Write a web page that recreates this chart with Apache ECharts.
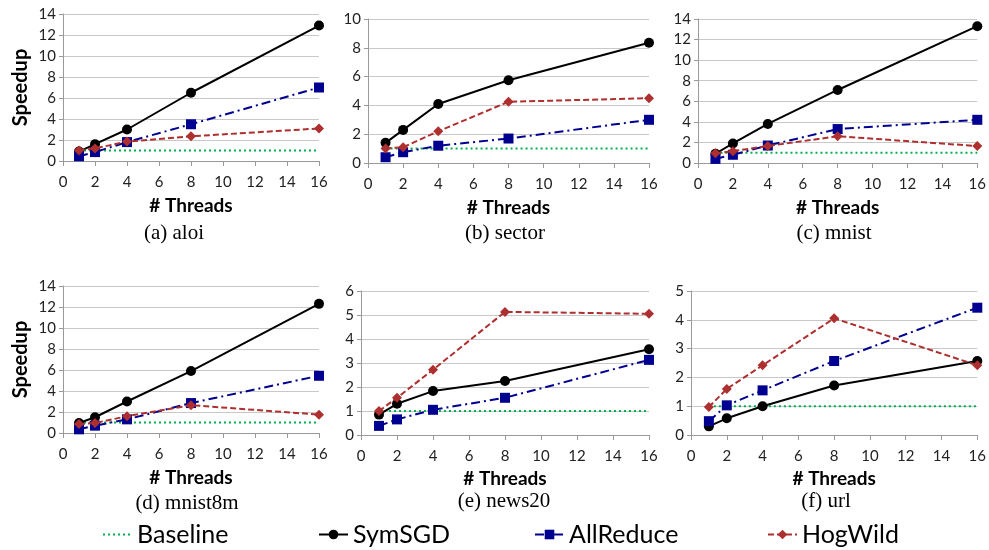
<!DOCTYPE html>
<html>
<head>
<meta charset="utf-8">
<script src="https://cdn.jsdelivr.net/npm/echarts@6/dist/echarts.min.js"></script>
<style>
html,body{margin:0;padding:0;background:#fff;}
#chart{width:989px;height:550px;}
</style>
</head>
<body>
<div id="chart"></div>
<script>
// ---- data ----
const threads = [1, 2, 4, 8, 16];
const panelNames = ['(a) aloi', '(b) sector', '(c) mnist', '(d) mnist8m', '(e) news20', '(f) url'];
const seriesNames = ['Baseline', 'SymSGD', 'AllReduce', 'HogWild'];

const baseline = [1, 1, 1, 1, 1];

const aloiSymSGD = [0.9, 1.6, 3.0, 6.5, 12.9];
const aloiAllReduce = [0.45, 0.85, 1.8, 3.5, 7.0];
const aloiHogWild = [1.0, 1.2, 1.85, 2.35, 3.1];

const sectorSymSGD = [1.4, 2.3, 4.1, 5.75, 8.35];
const sectorAllReduce = [0.4, 0.75, 1.2, 1.7, 3.0];
const sectorHogWild = [1.0, 1.1, 2.2, 4.25, 4.5];

const mnistSymSGD = [0.9, 1.9, 3.8, 7.1, 13.3];
const mnistAllReduce = [0.4, 0.8, 1.7, 3.3, 4.2];
const mnistHogWild = [0.95, 1.15, 1.65, 2.6, 1.65];

const mnist8mSymSGD = [0.95, 1.5, 3.0, 5.9, 12.3];
const mnist8mAllReduce = [0.35, 0.7, 1.3, 2.85, 5.45];
const mnist8mHogWild = [0.85, 0.95, 1.6, 2.65, 1.75];

const news20SymSGD = [0.85, 1.3, 1.83, 2.25, 3.57];
const news20AllReduce = [0.38, 0.65, 1.05, 1.55, 3.13];
const news20HogWild = [1.0, 1.55, 2.72, 5.13, 5.05];

const urlSymSGD = [0.3, 0.58, 1.0, 1.72, 2.57];
const urlAllReduce = [0.48, 1.03, 1.55, 2.57, 4.42];
const urlHogWild = [0.97, 1.6, 2.42, 4.05, 2.42];

const xTicks = {min: 0, max: 16, interval: 2};
const yTicks = [
  {min: 0, max: 14, interval: 2},
  {min: 0, max: 10, interval: 2},
  {min: 0, max: 14, interval: 2},
  {min: 0, max: 14, interval: 2},
  {min: 0, max: 6, interval: 1},
  {min: 0, max: 5, interval: 1}
];

const panelData = [
  [aloiSymSGD, aloiAllReduce, aloiHogWild],
  [sectorSymSGD, sectorAllReduce, sectorHogWild],
  [mnistSymSGD, mnistAllReduce, mnistHogWild],
  [mnist8mSymSGD, mnist8mAllReduce, mnist8mHogWild],
  [news20SymSGD, news20AllReduce, news20HogWild],
  [urlSymSGD, urlAllReduce, urlHogWild]
];

// ---- layout ----
const grids = [
  {left: 63, top: 14, width: 256, height: 147},
  {left: 368, top: 19, width: 281, height: 144},
  {left: 698, top: 19, width: 281, height: 144},
  {left: 63, top: 286, width: 256, height: 147},
  {left: 361, top: 291, width: 288, height: 144},
  {left: 691, top: 291, width: 288, height: 144}
];
const captionPos = [[169, 228], [500, 228], [829, 228], [182, 498], [499, 496], [821, 496]];
const nameGaps = [35, 35, 35, 35, 34, 34];

const FONT = 'Lato, "Open Sans", sans-serif';
const styles = {
  Baseline: {color: '#00b050', line: {width: 2, type: [2, 3]}, symbol: 'none', size: 0},
  SymSGD: {color: '#000000', line: {width: 2, type: 'solid'}, symbol: 'circle', size: 10},
  AllReduce: {color: '#000090', line: {width: 2, type: [9, 4, 2, 4]}, symbol: 'rect', size: 10},
  HogWild: {color: '#ae2f2f', line: {width: 2, type: [6, 3]}, symbol: 'diamond', size: 10}
};

function pairs(vals) { return threads.map((t, i) => [t, vals[i]]); }

const gridOpt = [], xAxes = [], yAxes = [], series = [], titles = [];
grids.forEach((g, i) => {
  gridOpt.push(Object.assign({containLabel: false}, g));
  xAxes.push({
    type: 'value', gridIndex: i, min: xTicks.min, max: xTicks.max, interval: xTicks.interval,
    name: '# Threads', nameLocation: 'middle', nameGap: nameGaps[i],
    nameTextStyle: {fontFamily: FONT, fontWeight: 'bold', fontSize: 19, color: '#000'},
    axisLine: {lineStyle: {color: '#9a9a9a', width: 1}},
    axisTick: {show: true, length: 5, lineStyle: {color: '#9a9a9a'}},
    axisLabel: {fontFamily: FONT, fontSize: 15, color: '#222', margin: 14},
    splitLine: {show: false}
  });
  yAxes.push({
    type: 'value', gridIndex: i, min: yTicks[i].min, max: yTicks[i].max, interval: yTicks[i].interval,
    name: (i === 0 || i === 3) ? 'Speedup' : '', nameLocation: 'middle', nameGap: 32, nameRotate: 90,
    nameTextStyle: {fontFamily: FONT, fontWeight: 'bold', fontSize: 20, color: '#000'},
    axisLine: {show: true, lineStyle: {color: '#9a9a9a', width: 1}},
    axisTick: {show: true, length: 4, lineStyle: {color: '#9a9a9a'}},
    axisLabel: {fontFamily: FONT, fontSize: 15, color: '#222', margin: 7},
    splitLine: {show: true, lineStyle: {color: '#c8c8c8', width: 1}}
  });
  const vals = [baseline].concat(panelData[i]);
  seriesNames.forEach((name, k) => {
    const s = styles[name];
    series.push({
      name: name, type: 'line', xAxisIndex: i, yAxisIndex: i,
      data: pairs(vals[k]),
      symbol: s.symbol, symbolSize: s.size, showSymbol: s.symbol !== 'none',
      lineStyle: {color: s.color, width: s.line.width, type: s.line.type},
      itemStyle: {color: s.color},
      animation: false, z: 2 + k
    });
  });
  titles.push({
    text: panelNames[i], left: captionPos[i][0], top: captionPos[i][1],
    textAlign: 'center', textVerticalAlign: 'middle',
    textStyle: {fontFamily: '"Liberation Serif", "Times New Roman", serif', fontWeight: 'normal', fontSize: 21, color: '#000'}
  });
});

const legendLeft = [102, 318, 534, 767];
const legends = seriesNames.map((name, k) => ({
  data: [k === 0 ? {name: name, itemStyle: {opacity: 0}} : name],
  left: legendLeft[k], top: 522, padding: 0,
  itemWidth: 29, itemHeight: 12, itemGap: 0,
  textStyle: {fontFamily: FONT, fontSize: 25, color: '#000'}
}));

const chart = echarts.init(document.getElementById('chart'), null, {renderer: 'canvas'});
chart.setOption({
  animation: false,
  backgroundColor: '#fff',
  title: titles,
  legend: legends,
  grid: gridOpt,
  xAxis: xAxes,
  yAxis: yAxes,
  series: series
});
</script>
</body>
</html>
